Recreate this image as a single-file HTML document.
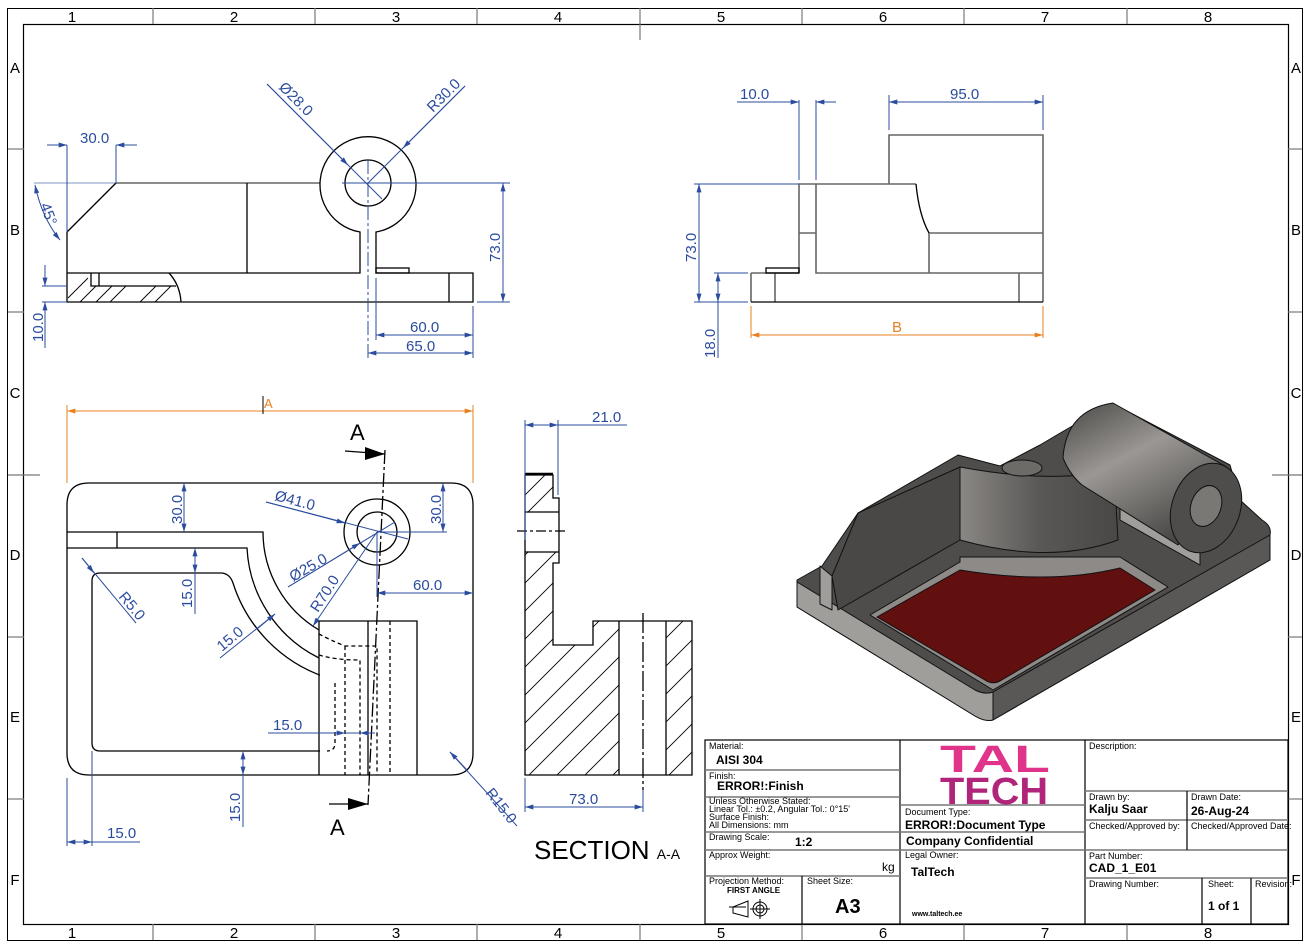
<!DOCTYPE html>
<html><head><meta charset="utf-8"><style>
html,body{margin:0;padding:0;background:#fff;}
svg{display:block;}
text{font-family:"Liberation Sans",sans-serif;}
.d{fill:#2b4c9e;font-size:15px;}
.b{stroke:#2b4c9e;stroke-width:1;fill:none;}
.k{stroke:#000;stroke-width:1.3;fill:none;}
.g{stroke:#666;stroke-width:1.6;fill:none;}
.h{stroke:#000;stroke-width:0.9;}
.t{font-size:9px;fill:#000;}
.tb{font-size:12px;font-weight:bold;fill:#000;}
</style></head><body>
<svg width="1310" height="945" viewBox="0 0 1310 945" xmlns="http://www.w3.org/2000/svg">
<defs>
<marker id="ab" viewBox="0 0 10 6" refX="10" refY="3" markerWidth="12" markerHeight="5" orient="auto-start-reverse" markerUnits="userSpaceOnUse"><path d="M0,0L10,3L0,6Z" fill="#2b4c9e"/></marker>
<marker id="ao" viewBox="0 0 10 6" refX="10" refY="3" markerWidth="12" markerHeight="5" orient="auto-start-reverse" markerUnits="userSpaceOnUse"><path d="M0,0L10,3L0,6Z" fill="#e8801f"/></marker>
<linearGradient id="cyl" x1="0" y1="0" x2="0.6" y2="1"><stop offset="0" stop-color="#4a4846"/><stop offset="0.45" stop-color="#9a9794"/><stop offset="1" stop-color="#4a4846"/></linearGradient>
<linearGradient id="wall" x1="0" y1="0" x2="1" y2="0"><stop offset="0" stop-color="#8a8784"/><stop offset="0.5" stop-color="#5a5856"/><stop offset="1" stop-color="#4a4846"/></linearGradient>
</defs>
<rect x="7.5" y="8.5" width="1295" height="932" fill="none" stroke="#000" stroke-width="1"/>
<rect x="23.5" y="24.5" width="1265" height="900" fill="none" stroke="#000" stroke-width="1.2"/>
<g stroke="#777" stroke-width="1.2">
<line x1="153" y1="8" x2="153" y2="24"/><line x1="315" y1="8" x2="315" y2="24"/><line x1="477" y1="8" x2="477" y2="24"/><line x1="640" y1="8" x2="640" y2="40"/><line x1="802" y1="8" x2="802" y2="24"/><line x1="964" y1="8" x2="964" y2="24"/><line x1="1127" y1="8" x2="1127" y2="24"/>
<line x1="153" y1="924" x2="153" y2="940"/><line x1="315" y1="924" x2="315" y2="940"/><line x1="477" y1="924" x2="477" y2="940"/><line x1="640" y1="924" x2="640" y2="940"/><line x1="802" y1="924" x2="802" y2="940"/><line x1="964" y1="924" x2="964" y2="940"/><line x1="1127" y1="924" x2="1127" y2="940"/>
<line x1="8" y1="149" x2="24" y2="149"/><line x1="8" y1="312" x2="24" y2="312"/><line x1="8" y1="475" x2="40" y2="475"/><line x1="8" y1="637" x2="24" y2="637"/><line x1="8" y1="799" x2="24" y2="799"/>
<line x1="1288" y1="149" x2="1302" y2="149"/><line x1="1288" y1="312" x2="1302" y2="312"/><line x1="1272" y1="475" x2="1302" y2="475"/><line x1="1288" y1="637" x2="1302" y2="637"/><line x1="1288" y1="799" x2="1302" y2="799"/>
</g>
<g font-size="15" fill="#000" text-anchor="middle">
<text x="72" y="22">1</text><text x="234" y="22">2</text><text x="396" y="22">3</text><text x="558" y="22">4</text><text x="721" y="22">5</text><text x="883" y="22">6</text><text x="1045" y="22">7</text><text x="1208" y="22">8</text>
<text x="72" y="938">1</text><text x="234" y="938">2</text><text x="396" y="938">3</text><text x="558" y="938">4</text><text x="721" y="938">5</text><text x="883" y="938">6</text><text x="1045" y="938">7</text><text x="1208" y="938">8</text>
<text x="15" y="73">A</text><text x="15" y="235">B</text><text x="15" y="398">C</text><text x="15" y="560">D</text><text x="15" y="722">E</text><text x="15" y="885">F</text>
<text x="1296" y="73">A</text><text x="1296" y="235">B</text><text x="1296" y="398">C</text><text x="1296" y="560">D</text><text x="1296" y="722">E</text><text x="1296" y="885">F</text>
</g>

<!-- FRONT VIEW -->
<g>
<path class="g" d="M116,183 L320,183"/>
<path class="k" d="M67,232 L116,183"/>
<path class="k" d="M67,232 L67,302 L473,302 L473,273 L376,273 L376,232 A48,48 0 1 0 360,232 L360,273 L67,273"/>
<line class="k" x1="247" y1="183" x2="247" y2="273"/>
<line class="k" x1="449" y1="273" x2="449" y2="302"/>
<rect class="k" x="376" y="268" width="33" height="5"/>
<circle class="k" cx="368" cy="183" r="23"/>
<path class="k" d="M169,273 Q180,285 181,302"/>
<path class="k" d="M91,273 L91,286 L99,286 L99,273 M99,286 L176,286"/>
<g class="h"><line x1="68" y1="298" x2="88" y2="278"/><line x1="80" y1="302" x2="96" y2="286"/><line x1="96" y1="302" x2="112" y2="286"/><line x1="110" y1="302" x2="126" y2="286"/><line x1="140" y1="302" x2="156" y2="286"/><line x1="155" y1="302" x2="171" y2="286"/></g>
<line class="b" x1="34" y1="183" x2="116" y2="183" stroke-opacity="0.6"/>
<path class="b" d="M67,232 L67,145 M116,183 L116,145"/>
<line class="b" x1="47" y1="145" x2="67" y2="145" marker-end="url(#ab)"/>
<line class="b" x1="137" y1="145" x2="116" y2="145" marker-end="url(#ab)"/>
<text class="d" x="80" y="143">30.0</text>
<path class="b" d="M35,185 Q42,218 60,240" marker-start="url(#ab)" marker-end="url(#ab)"/>
<text class="d" transform="translate(40,205) rotate(70)">45°</text>
<line class="b" x1="45" y1="265" x2="45" y2="286" marker-end="url(#ab)"/>
<line class="b" x1="45" y1="348" x2="45" y2="302" marker-end="url(#ab)"/>
<line class="b" x1="42" y1="286" x2="67" y2="286"/><line class="b" x1="42" y1="302" x2="67" y2="302"/>
<text class="d" transform="translate(43,342) rotate(-90)">10.0</text>
<line class="b" x1="267" y1="84" x2="382" y2="199"/><line class="b" x1="267" y1="84" x2="348" y2="165" marker-end="url(#ab)"/>
<text class="d" transform="translate(278,88) rotate(45)">Ø28.0</text>
<line class="b" x1="465" y1="86" x2="368" y2="183"/><line class="b" x1="465" y1="86" x2="403" y2="148" marker-end="url(#ab)"/>
<text class="d" transform="translate(433,113) rotate(-45)">R30.0</text>
<line class="b" x1="368" y1="160" x2="368" y2="360" stroke-dasharray="14,3,3,3"/>
<line class="b" x1="342" y1="183" x2="510" y2="183"/>
<line class="b" x1="477" y1="302" x2="510" y2="302"/>
<line class="b" x1="503" y1="183" x2="503" y2="302" marker-start="url(#ab)" marker-end="url(#ab)"/>
<text class="d" transform="translate(500,262) rotate(-90)">73.0</text>
<line class="b" x1="376" y1="278" x2="376" y2="340"/><line class="b" x1="473" y1="306" x2="473" y2="358"/>
<line class="b" x1="376" y1="335" x2="473" y2="335" marker-start="url(#ab)" marker-end="url(#ab)"/>
<line class="b" x1="368" y1="353" x2="473" y2="353" marker-start="url(#ab)" marker-end="url(#ab)"/>
<text class="d" x="410" y="332">60.0</text><text class="d" x="406" y="351">65.0</text>
</g>

<!-- SIDE VIEW -->
<g>
<path class="g" d="M751,273 L751,302 M775,273 L775,302 M751,273 L799,273 M799,273 L799,184 L816,184 L816,273 L1043,273 L1043,302 M1019,273 L1019,302 M816,184 L916,184 M889,184 L889,135 L1043,135 L1043,273 M929,233 L1043,233 M929,233 L929,273 M799,233 L816,233"/>
<line class="k" x1="751" y1="302" x2="1043" y2="302"/>
<path class="k" d="M916,184 Q919,215 929,233"/>
<rect class="k" x="766" y="268" width="33" height="5"/>
<line class="b" x1="799" y1="100" x2="799" y2="180"/><line class="b" x1="816" y1="100" x2="816" y2="180"/>
<line class="b" x1="737" y1="102" x2="799" y2="102" marker-end="url(#ab)"/><line class="b" x1="836" y1="102" x2="816" y2="102" marker-end="url(#ab)"/>
<text class="d" x="740" y="99">10.0</text>
<line class="b" x1="889" y1="95" x2="889" y2="130"/><line class="b" x1="1043" y1="95" x2="1043" y2="130"/>
<line class="b" x1="889" y1="102" x2="1043" y2="102" marker-start="url(#ab)" marker-end="url(#ab)"/>
<text class="d" x="950" y="99">95.0</text>
<line class="b" x1="694" y1="184" x2="799" y2="184"/><line class="b" x1="694" y1="302" x2="748" y2="302"/>
<line class="b" x1="699" y1="184" x2="699" y2="302" marker-start="url(#ab)" marker-end="url(#ab)"/>
<text class="d" transform="translate(696,262) rotate(-90)">73.0</text>
<line class="b" x1="714" y1="273" x2="748" y2="273"/>
<line class="b" x1="718" y1="273" x2="718" y2="358"/>
<line class="b" x1="718" y1="273" x2="718" y2="302" marker-start="url(#ab)" marker-end="url(#ab)"/>
<text class="d" transform="translate(715,358) rotate(-90)">18.0</text>
<line stroke="#e8801f" x1="751" y1="306" x2="751" y2="338"/><line stroke="#e8801f" x1="1043" y1="306" x2="1043" y2="338"/>
<line stroke="#e8801f" x1="751" y1="335" x2="1043" y2="335" marker-start="url(#ao)" marker-end="url(#ao)"/>
<text x="892" y="332" font-size="15" fill="#e8801f">B</text>
</g>

<!-- PLAN VIEW -->
<g>
<path class="k" d="M89,483 L451,483 Q473,483 473,505 L473,753 Q473,775 451,775 L89,775 Q67,775 67,753 L67,505 Q67,483 89,483 Z"/>
<path class="k" d="M67,532 L263,532 A114,114 0 0 0 319,630 M67,548 L247,548 A130,130 0 0 0 319,658 M117,532 L117,548"/>
<path class="k" d="M100,573 L222,573 Q230,574 233,583 A146,146 0 0 0 325,677 Q335,680 335,690 L335,743 Q335,751 327,751 L100,751 Q92,751 92,743 L92,581 Q92,573 100,573 Z"/>
<path fill="#fff" stroke="none" d="M320,640 L336,640 L336,770 L320,770 Z"/>
<path class="k" d="M319,621 L417,621 L417,775 M319,621 L319,775"/>
<path class="k" stroke-dasharray="4,3" d="M319,634 Q330,640 345,646 L377,646 L377,775 M319,655 Q335,660 360,660 L360,775 M335,683 L335,743 Q335,751 327,751 M345,646 L345,775 M390,621 L390,775"/>
<line class="k" x1="368" y1="621" x2="368" y2="775"/>
<circle class="k" cx="377" cy="532" r="33"/><circle class="k" cx="377" cy="532" r="20"/>
<path class="k" stroke-dasharray="14,3,3,3" d="M385,450 L368,805"/>
<line class="k" x1="345" y1="451" x2="385" y2="454"/><path d="M385,454 L365,447 L365,460 Z" fill="#000"/>
<line class="k" x1="329" y1="804" x2="368" y2="804"/><path d="M368,804 L348,798 L348,810 Z" fill="#000"/>
<text x="350" y="440" font-size="22">A</text><text x="330" y="835" font-size="22">A</text>
<line stroke="#e8801f" x1="67" y1="405" x2="67" y2="483"/><line stroke="#e8801f" x1="473" y1="405" x2="473" y2="483"/>
<line stroke="#e8801f" x1="67" y1="411" x2="473" y2="411" marker-start="url(#ao)" marker-end="url(#ao)"/>
<line stroke="#000" x1="263" y1="396" x2="263" y2="414"/>
<text x="264" y="408" font-size="13" fill="#e8801f">A</text>
<line class="b" x1="184" y1="483" x2="184" y2="532" marker-start="url(#ab)" marker-end="url(#ab)"/>
<text class="d" transform="translate(182,524) rotate(-90)">30.0</text>
<line class="b" x1="195" y1="548" x2="195" y2="614"/><line class="b" x1="195" y1="548" x2="195" y2="573" marker-start="url(#ab)" marker-end="url(#ab)"/>
<text class="d" transform="translate(192,608) rotate(-90)">15.0</text>
<line class="b" x1="377" y1="532" x2="447" y2="532"/>
<line class="b" x1="443" y1="483" x2="443" y2="532" marker-start="url(#ab)" marker-end="url(#ab)"/>
<text class="d" transform="translate(441,524) rotate(-90)">30.0</text>
<line class="b" x1="266" y1="502" x2="408" y2="539"/><line class="b" x1="266" y1="502" x2="345" y2="523" marker-end="url(#ab)"/>
<text class="d" transform="translate(274,500) rotate(15)">Ø41.0</text>
<line class="b" x1="288" y1="587" x2="395" y2="522"/><line class="b" x1="288" y1="587" x2="360" y2="543" marker-end="url(#ab)"/>
<text class="d" transform="translate(293,582) rotate(-30)">Ø25.0</text>
<line class="b" x1="377" y1="532" x2="313" y2="626" marker-end="url(#ab)"/>
<text class="d" transform="translate(318,613) rotate(-57)">R70.0</text>
<line class="b" x1="82" y1="558" x2="136" y2="623"/><line class="b" x1="82" y1="558" x2="94" y2="573" marker-end="url(#ab)"/>
<text class="d" transform="translate(118,597) rotate(50)">R5.0</text>
<line class="b" x1="220" y1="658" x2="275" y2="614"/><line class="b" x1="257" y1="629" x2="275" y2="614" marker-end="url(#ab)"/>
<text class="d" transform="translate(222,652) rotate(-40)">15.0</text>
<line class="b" x1="268" y1="733" x2="360" y2="733"/><line class="b" x1="328" y1="733" x2="345" y2="733" marker-end="url(#ab)"/><line class="b" x1="375" y1="733" x2="360" y2="733" marker-end="url(#ab)"/>
<text class="d" x="273" y="730">15.0</text>
<line class="b" x1="243" y1="751" x2="243" y2="827"/><line class="b" x1="243" y1="751" x2="243" y2="775" marker-start="url(#ab)" marker-end="url(#ab)"/>
<text class="d" transform="translate(240,822) rotate(-90)">15.0</text>
<line class="b" x1="67" y1="778" x2="67" y2="846"/><line class="b" x1="92" y1="751" x2="92" y2="846"/>
<line class="b" x1="67" y1="842" x2="92" y2="842" marker-start="url(#ab)" marker-end="url(#ab)"/><line class="b" x1="92" y1="842" x2="140" y2="842"/>
<text class="d" x="107" y="838">15.0</text>
<line class="b" x1="377" y1="532" x2="377" y2="597"/>
<line class="b" x1="377" y1="593" x2="473" y2="593" marker-start="url(#ab)" marker-end="url(#ab)"/>
<text class="d" x="413" y="590">60.0</text>
<line class="b" x1="450" y1="752" x2="517" y2="826"/><line class="b" x1="450" y1="752" x2="467" y2="770" marker-start="url(#ab)"/>
<text class="d" transform="translate(485,793) rotate(52)">R15.0</text>
</g>

<!-- SECTION VIEW -->
<g>
<clipPath id="sc"><path d="M525,475 L553,475 L553,498 L559,498 L559,512 L525,512 Z M525,552 L559,552 L559,563 L553,563 L553,645 L593,645 L593,621 L619,621 L619,775 L525,775 Z M666,621 L692,621 L692,775 L666,775 Z"/></clipPath>
<g clip-path="url(#sc)">
<g class="h">
<line x1="480" y1="540" x2="640" y2="380"/><line x1="480" y1="560" x2="640" y2="400"/><line x1="480" y1="600" x2="700" y2="380"/><line x1="480" y1="628" x2="720" y2="388"/><line x1="480" y1="656" x2="740" y2="396"/><line x1="480" y1="684" x2="760" y2="404"/><line x1="480" y1="712" x2="780" y2="412"/><line x1="480" y1="740" x2="800" y2="420"/><line x1="480" y1="768" x2="820" y2="428"/><line x1="480" y1="796" x2="840" y2="436"/><line x1="480" y1="824" x2="860" y2="444"/><line x1="480" y1="852" x2="880" y2="452"/><line x1="480" y1="880" x2="900" y2="460"/><line x1="480" y1="908" x2="920" y2="468"/><line x1="480" y1="936" x2="940" y2="476"/><line x1="510" y1="934" x2="960" y2="484"/><line x1="540" y1="932" x2="980" y2="492"/><line x1="570" y1="930" x2="1000" y2="500"/>
</g></g>
<path class="k" d="M525,475 L553,475 L553,498 L559,498 L559,563 L553,563 L553,645 L593,645 L593,621 L692,621 L692,775 L525,775 Z"/>
<line stroke="#000" stroke-width="2.5" x1="525" y1="474" x2="553" y2="474"/>
<path class="k" d="M525,512 L559,512 M525,552 L559,552 M619,621 L619,775 M666,621 L666,775"/>
<line class="k" x1="517" y1="531" x2="565" y2="531" stroke-dasharray="10,3,3,3"/>
<line class="k" x1="643" y1="613" x2="643" y2="790" stroke-dasharray="20,3,3,3"/>
<line class="b" x1="525" y1="420" x2="525" y2="540"/><line class="b" x1="558" y1="420" x2="558" y2="495"/>
<line class="b" x1="525" y1="425" x2="558" y2="425" marker-start="url(#ab)" marker-end="url(#ab)"/><line class="b" x1="558" y1="425" x2="627" y2="425"/>
<text class="d" x="592" y="422">21.0</text>
<line class="b" x1="525" y1="778" x2="525" y2="812"/><line class="b" x1="643" y1="790" x2="643" y2="812"/>
<line class="b" x1="525" y1="807" x2="643" y2="807" marker-start="url(#ab)" marker-end="url(#ab)"/>
<text class="d" x="569" y="804">73.0</text>
<text x="534" y="859" font-size="26" fill="#000">SECTION <tspan font-size="14">A-A</tspan></text>
</g>

<!-- ISOMETRIC -->
<g stroke="#111" stroke-width="1" stroke-linejoin="round">
<path fill="#4f4d4b" d="M797,580 L822,566 L858,513 L958,455 L1000,466 L1040,445 L1062,432 L1100,410 L1125,410 L1230,465 L1240,500 L1262,520 Q1272,526 1270,535 L1270,560 L993,720 Q985,722 975,716 L797,607 Z"/>
<path fill="#a09e9b" d="M797,582 L975,690 Q985,695 993,692 L993,720 Q985,722 975,716 L797,607 Z"/>
<path fill="#5a5856" d="M993,692 L1270,535 L1270,560 L993,720 Z"/>
<path fill="#a09e9b" d="M820,566 L832,576 L832,610 L820,604 Z"/>
<path fill="#4a4846" d="M832,576 L858,513 L960,467 L960,540 L838,610 Z"/>
<path fill="#a09e9b" d="M1120,520 L1200,565 L1200,545 L1120,505 Z"/>
<path fill="url(#wall)" d="M960,467 Q1030,480 1082,475 L1115,487 L1118,540 Q1050,565 960,540 Z"/>
<path fill="#8d8a87" d="M870,615 L960,562 L960,557 L1120,557 L1168,587 L993,690 Z"/>
<path fill="#620f10" d="M877,617 L960,570 Q1050,585 1120,568 L1155,590 L1000,681 Q992,685 985,680 Z"/>
<ellipse cx="1022" cy="468" rx="20" ry="8" fill="#6d6b68"/>
<path fill="url(#cyl)" d="M1063,458 Q1066,410 1113,403 L1225,466 L1178,545 L1082,485 Q1070,475 1063,458 Z"/>
<ellipse cx="1206" cy="508" rx="34" ry="46" transform="rotate(20 1206 508)" fill="#4f4d4b"/>
<ellipse cx="1206" cy="506" rx="15" ry="21" transform="rotate(20 1206 506)" fill="#7a7874"/>
</g>

<!-- TITLE BLOCK -->
<g stroke="#000" stroke-width="1.2" fill="none">
<rect x="705" y="740" width="583" height="184"/>
<line x1="900" y1="740" x2="900" y2="924"/><line x1="1085" y1="740" x2="1085" y2="924"/>
<g stroke="#777" stroke-width="1.4">
<line x1="705" y1="770" x2="900" y2="770"/><line x1="705" y1="797" x2="900" y2="797"/><line x1="705" y1="832" x2="900" y2="832"/><line x1="705" y1="850" x2="900" y2="850"/><line x1="705" y1="876" x2="900" y2="876"/>
<line x1="900" y1="805" x2="1085" y2="805"/><line x1="900" y1="832" x2="1085" y2="832"/><line x1="900" y1="850" x2="1085" y2="850"/>
<line x1="1085" y1="791" x2="1288" y2="791"/><line x1="1085" y1="820" x2="1288" y2="820"/><line x1="1085" y1="850" x2="1288" y2="850"/><line x1="1085" y1="878" x2="1288" y2="878"/>
</g>
<line x1="802" y1="876" x2="802" y2="924"/><line x1="1187" y1="791" x2="1187" y2="850"/><line x1="1202" y1="878" x2="1202" y2="924"/><line x1="1251" y1="878" x2="1251" y2="924"/>
</g>
<text class="t" x="709" y="749">Material:</text><text class="tb" x="716" y="764" font-size="11">AISI 304</text>
<text class="t" x="709" y="779">Finish:</text><text class="tb" x="717" y="790" font-size="11">ERROR!:Finish</text>
<text class="t" x="709" y="804" font-size="8">Unless Otherwise Stated:</text>
<text class="t" x="709" y="812" font-size="8">Linear Tol.: ±0.2, Angular Tol.: 0°15'</text>
<text class="t" x="709" y="820" font-size="8">Surface Finish:</text>
<text class="t" x="709" y="828" font-size="8">All Dimensions: mm</text>
<text class="t" x="709" y="840">Drawing Scale:</text><text class="tb" x="795" y="846" font-size="11">1:2</text>
<text class="t" x="709" y="858">Approx Weight:</text><text x="882" y="871" font-size="12">kg</text>
<text class="t" x="709" y="884">Projection Method:</text><text x="727" y="893" font-size="8" font-weight="bold">FIRST ANGLE</text>
<g stroke="#000" fill="none" stroke-width="1"><path d="M733,907 L748,901 L748,917 L733,913 Z M729,907 L746,907"/><circle cx="760" cy="909" r="7"/><circle cx="760" cy="909" r="4"/><line x1="750" y1="909" x2="770" y2="909"/><line x1="760" y1="899" x2="760" y2="919"/></g>
<text class="t" x="807" y="884">Sheet Size:</text><text x="835" y="913" font-size="20" font-weight="bold">A3</text>
<text x="940" y="772" font-size="38" font-weight="bold" fill="#e0338a" textLength="110" lengthAdjust="spacingAndGlyphs">TAL</text>
<text x="940" y="804" font-size="38" font-weight="bold" fill="#b0257a" textLength="108" lengthAdjust="spacingAndGlyphs">TECH</text>
<text class="t" x="905" y="815">Document Type:</text><text class="tb" x="905" y="829" font-size="11">ERROR!:Document Type</text>
<text class="tb" x="906" y="845" font-size="11">Company Confidential</text>
<text class="t" x="905" y="858">Legal Owner:</text><text class="tb" x="911" y="876">TalTech</text>
<text x="912" y="916" font-size="7" font-weight="bold">www.taltech.ee</text>
<text class="t" x="1089" y="749">Description:</text>
<text class="t" x="1089" y="800">Drawn by:</text><text class="tb" x="1089" y="813" font-size="11">Kalju Saar</text>
<text class="t" x="1191" y="800">Drawn Date:</text><text class="tb" x="1191" y="815" font-size="11">26-Aug-24</text>
<text class="t" x="1089" y="829">Checked/Approved by:</text><text class="t" x="1191" y="829">Checked/Approved Date:</text>
<text class="t" x="1089" y="859">Part Number:</text><text class="tb" x="1089" y="872" font-size="11">CAD_1_E01</text>
<text class="t" x="1089" y="887">Drawing Number:</text><text class="t" x="1208" y="887">Sheet:</text><text class="t" x="1255" y="887">Revision:</text>
<text class="tb" x="1208" y="910" font-size="11">1 of 1</text>
</svg>
</body></html>
